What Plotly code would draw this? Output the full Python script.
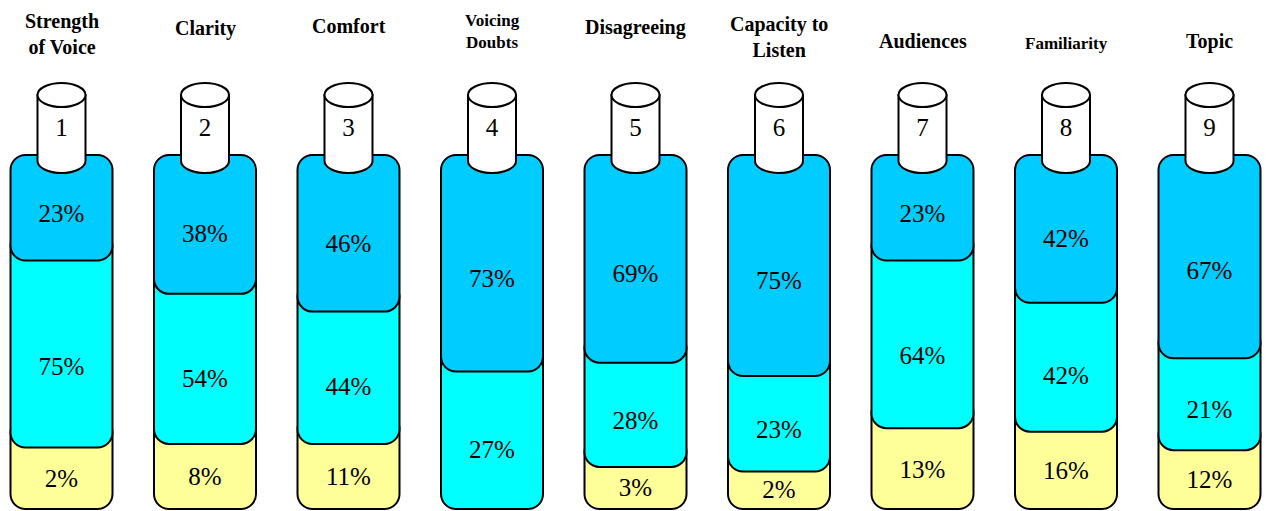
import plotly.graph_objects as go

# ---------------- data ----------------
categories = ["Strength<br>of Voice", "Clarity", "Comfort", "Voicing<br>Doubts",
              "Disagreeing", "Capacity to<br>Listen", "Audiences", "Familiarity", "Topic"]
numbers = ["1", "2", "3", "4", "5", "6", "7", "8", "9"]
top_pct = [23, 38, 46, 73, 69, 75, 23, 42, 67]
mid_pct = [75, 54, 44, 27, 28, 23, 64, 42, 21]
low_pct = [2, 8, 11, None, 3, 2, 13, 16, 12]

# ---------------- layout / style ----------------
W, H = 1274, 511
FIRST_C, STEP = 61.5, 143.5
BOX_W, RAD = 102, 15
STACK_TOP, STACK_BOT = 155, 509
CYL_RX, CYL_RY, CYL_TOP, CYL_BOT = 24, 12, 95, 161
TOP_A, TOP_B = 54.5, 2.22      # pixel height of a top segment = A + B * value
MID_A, MID_B = 55.0, 1.76
LABEL_FRAC = 0.58
C_TOP, C_MID, C_LOW = "#00CCFF", "#00FFFF", "#FFFF99"
FONT = "Liberation Serif"
head_size = [20, 20, 20, 17, 20, 20, 20, 17, 20]
head_y = [34, 28, 26, 31, 27, 37, 41, 43, 41]

K = 0.5523


def rrect(x0, y0, x1, y1, r):
    k = K * r
    return (f"M {x0+r},{y0} L {x1-r},{y0} "
            f"C {x1-r+k},{y0} {x1},{y0+r-k} {x1},{y0+r} "
            f"L {x1},{y1-r} "
            f"C {x1},{y1-r+k} {x1-r+k},{y1} {x1-r},{y1} "
            f"L {x0+r},{y1} "
            f"C {x0+r-k},{y1} {x0},{y1-r+k} {x0},{y1-r} "
            f"L {x0},{y0+r} "
            f"C {x0},{y0+r-k} {x0+r-k},{y0} {x0+r},{y0} Z")


def cyl_body(cx):
    x0, x1 = cx - CYL_RX, cx + CYL_RX
    kx, ky = K * CYL_RX, K * CYL_RY
    yb = CYL_BOT
    return (f"M {x0},{CYL_TOP} L {x0},{yb} "
            f"C {x0},{yb+ky} {cx-kx},{yb+CYL_RY} {cx},{yb+CYL_RY} "
            f"C {cx+kx},{yb+CYL_RY} {x1},{yb+ky} {x1},{yb} "
            f"L {x1},{CYL_TOP} Z")


shapes = []
lab_x, lab_y, lab_t = [], [], []
num_x, num_y = [], []
line = dict(color="black", width=2)

for i in range(len(categories)):
    cx = FIRST_C + i * STEP
    x0, x1 = cx - BOX_W / 2, cx + BOX_W / 2
    t_top = STACK_TOP
    t_bot = t_top + TOP_A + TOP_B * top_pct[i]
    if low_pct[i] is None:
        m_bot = STACK_BOT
    else:
        m_bot = t_bot + MID_A + MID_B * mid_pct[i]
    if low_pct[i] is not None:
        shapes.append(dict(type="path", path=rrect(x0, m_bot - 30, x1, STACK_BOT, RAD),
                           fillcolor=C_LOW, line=line, xref="x", yref="y", layer="below"))
        lab_x.append(cx)
        lab_y.append(m_bot + 0.52 * (H - m_bot))
        lab_t.append(f"{low_pct[i]}%")
    shapes.append(dict(type="path", path=rrect(x0, t_bot - 30, x1, m_bot, RAD),
                       fillcolor=C_MID, line=line, xref="x", yref="y", layer="below"))
    lab_x.append(cx)
    lab_y.append(t_bot + LABEL_FRAC * (m_bot - t_bot))
    lab_t.append(f"{mid_pct[i]}%")
    shapes.append(dict(type="path", path=rrect(x0, t_top, x1, t_bot, RAD),
                       fillcolor=C_TOP, line=line, xref="x", yref="y", layer="below"))
    lab_x.append(cx)
    lab_y.append(t_top + LABEL_FRAC * (t_bot - t_top))
    lab_t.append(f"{top_pct[i]}%")
    shapes.append(dict(type="path", path=cyl_body(cx), fillcolor="white", line=line,
                       xref="x", yref="y", layer="below"))
    shapes.append(dict(type="circle", x0=cx - CYL_RX, x1=cx + CYL_RX,
                       y0=CYL_TOP - CYL_RY, y1=CYL_TOP + CYL_RY,
                       fillcolor="white", line=line, xref="x", yref="y", layer="below"))
    num_x.append(cx)
    num_y.append(130)

fig = go.Figure()
fig.add_trace(go.Scatter(x=lab_x, y=lab_y, text=lab_t, mode="text",
                         textfont=dict(family=FONT, size=25, color="black"),
                         textposition="middle center", cliponaxis=True,
                         hoverinfo="skip", showlegend=False))
fig.add_trace(go.Scatter(x=num_x, y=num_y, text=numbers, mode="text",
                         textfont=dict(family=FONT, size=25, color="black"),
                         textposition="middle center", cliponaxis=True,
                         hoverinfo="skip", showlegend=False))

annotations = []
for i, c in enumerate(categories):
    annotations.append(dict(x=FIRST_C + i * STEP, y=head_y[i], xref="x", yref="y",
                            text=f"<b>{c}</b>", showarrow=False,
                            font=dict(family=FONT, size=head_size[i], color="black"),
                            xanchor="center", yanchor="middle", align="center"))

fig.update_layout(
    width=W, height=H, margin=dict(l=0, r=0, t=0, b=0),
    paper_bgcolor="white", plot_bgcolor="white",
    font=dict(family=FONT),
    shapes=shapes, annotations=annotations,
    xaxis=dict(range=[0, W], visible=False, fixedrange=True),
    yaxis=dict(range=[H, 0], visible=False, fixedrange=True),
    showlegend=False,
)
fig.write_html("out.html")
